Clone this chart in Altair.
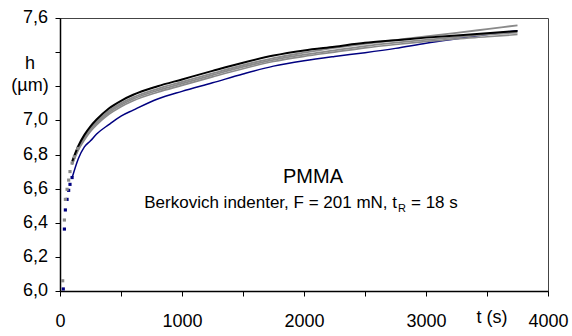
import altair as alt
import pandas as pd

# ---- data ----
t_line = [100, 150, 200, 250, 300, 400, 500, 600, 800, 1000, 1250, 1500,
          1750, 2000, 2250, 2500, 2750, 3000, 3250, 3500, 3750]
h_black = [6.76, 6.85, 6.915, 6.965, 7.005, 7.07, 7.115, 7.15, 7.20, 7.24, 7.29, 7.338,
           7.38, 7.41, 7.432, 7.455, 7.47, 7.485, 7.498, 7.51, 7.524]
h_gray1 = [6.75, 6.84, 6.905, 6.952, 6.99, 7.055, 7.10, 7.135, 7.185, 7.225, 7.275, 7.323,
           7.365, 7.397, 7.425, 7.448, 7.47, 7.492, 7.513, 7.535, 7.557]
h_gray2 = [6.745, 6.832, 6.895, 6.945, 6.982, 7.045, 7.09, 7.125, 7.175, 7.215, 7.265, 7.313,
           7.355, 7.385, 7.41, 7.435, 7.455, 7.472, 7.488, 7.502, 7.515]
h_gray3 = [6.74, 6.825, 6.885, 6.935, 6.973, 7.035, 7.08, 7.115, 7.165, 7.205, 7.255, 7.303,
           7.345, 7.375, 7.40, 7.425, 7.445, 7.462, 7.478, 7.49, 7.503]
h_blue = [6.665, 6.775, 6.845, 6.88, 6.92, 6.975, 7.025, 7.06, 7.125, 7.17, 7.22, 7.272,
          7.318, 7.35, 7.375, 7.397, 7.422, 7.452, 7.478, 7.503, 7.526]

t_early_gray = [22, 36, 44, 58, 71, 82, 99, 118, 145]
h_early_gray = [6.06, 6.416, 6.537, 6.596, 6.65, 6.70, 6.75, 6.787, 6.836]
t_early_blue = [27, 36, 44, 58, 71, 82, 99]
h_early_blue = [6.012, 6.363, 6.475, 6.537, 6.59, 6.625, 6.665]

# axis tick labels
y_tick_vals = [6.0, 6.2, 6.4, 6.6, 6.8, 7.0, 7.6]
y_tick_text = ["6,0", "6,2", "6,4", "6,6", "6,8", "7,0", "7,6"]
y_unit_vals = [7.33, 7.2]
y_unit_text = ["h", "(µm)"]
x_tick_vals = [0, 500, 1000, 1500, 2000, 2500, 3000, 3500, 4000]

series_names = ["blue", "gray3", "gray2", "gray1", "black"]
series_colors = ["#000080", "#8a8a8a", "#8a8a8a", "#8a8a8a", "#000000"]
series_widths = [1.5, 2, 2, 2, 2]

rows = []
for name, vals in zip(series_names, [h_blue, h_gray3, h_gray2, h_gray1, h_black]):
    for i, (t, h) in enumerate(zip(t_line, vals)):
        rows.append({"t": t, "h": h, "series": name, "order": i})
lines_df = pd.DataFrame(rows)

pts = []
for t, h in zip(t_early_blue, h_early_blue):
    pts.append({"t": t, "h": h, "series": "blue"})
for t, h in zip(t_early_gray, h_early_gray):
    pts.append({"t": t, "h": h, "series": "gray2"})
pts_df = pd.DataFrame(pts)

ylab_df = pd.DataFrame({"h": y_tick_vals, "label": y_tick_text})
yunit_df = pd.DataFrame({"h": y_unit_vals, "label": y_unit_text})

FONT = "Liberation Sans"
TICK_FS = 18

x_scale = alt.Scale(domain=[0, 4000], nice=False)
y_scale = alt.Scale(domain=[6.0, 7.6], nice=False, zero=False)
color_scale = alt.Scale(domain=series_names, range=series_colors)
width_scale = alt.Scale(domain=series_names, range=series_widths)

x_axis = alt.Axis(
    values=x_tick_vals,
    labelExpr="datum.value % 1000 == 0 ? datum.label : ''",
    format="d", grid=False, tickSize=5, labelPadding=16, title=None,
    labelFontSize=TICK_FS, labelFont=FONT, labelColor="black",
    domainColor="black", domainWidth=1.5, tickColor="black",
    labelFlush=False, labelOverlap=False,
)
y_axis = alt.Axis(
    values=[6.0, 6.2, 6.4, 6.6, 6.8, 7.0, 7.2, 7.4, 7.6],
    labels=False,
    grid=False, tickSize=5, title=None,
    domainColor="black", domainWidth=1.5, tickColor="black",
)

lines = alt.Chart(lines_df).mark_line(clip=True, interpolate="monotone").encode(
    x=alt.X("t:Q", scale=x_scale, axis=x_axis),
    y=alt.Y("h:Q", scale=y_scale, axis=y_axis),
    color=alt.Color("series:N", scale=color_scale, legend=None),
    size=alt.Size("series:N", scale=width_scale, legend=None),
    detail="series:N",
    order="order:Q",
)

points = alt.Chart(pts_df).mark_square(size=10, opacity=1).encode(
    x=alt.X("t:Q", scale=x_scale, axis=x_axis),
    y=alt.Y("h:Q", scale=y_scale, axis=y_axis),
    color=alt.Color("series:N", scale=color_scale, legend=None),
)

ylabels = alt.Chart(ylab_df).mark_text(
    font=FONT, fontSize=TICK_FS, align="right", baseline="middle", color="black"
).encode(x=alt.value(-12), y=alt.Y("h:Q", scale=y_scale, axis=y_axis), text="label:N")

yunits = alt.Chart(yunit_df).mark_text(
    font=FONT, fontSize=TICK_FS, align="center", baseline="middle", color="black"
).encode(x=alt.value(-30), y=alt.Y("h:Q", scale=y_scale, axis=y_axis), text="label:N")

ann = pd.DataFrame({"a": [0]})


def txt(text, x, y, size, align="center", baseline="middle"):
    return alt.Chart(ann).mark_text(
        text=text, font=FONT, fontSize=size, align=align, baseline=baseline, color="black"
    ).encode(x=alt.value(x), y=alt.value(y))


texts = [
    txt("t (s)", 432, 300, TICK_FS),
    txt("PMMA", 253, 165, 20, baseline="alphabetic"),
    txt("Berkovich indenter, F = 201 mN, t", 337, 190, 17, align="right", baseline="alphabetic"),
    txt("R", 338, 194, 11, align="left", baseline="alphabetic"),
    txt("= 18 s", 351, 190, 17, align="left", baseline="alphabetic"),
]

chart = alt.layer(lines, points, ylabels, yunits, *texts).properties(
    width=488, height=273,
    padding={"left": 60, "top": 18, "right": 24, "bottom": 45},
    autosize=alt.AutoSizeParams(type="none"),
    background="white",
).configure_view(stroke="#444444", strokeWidth=1)

chart.save("out.html", embed_options={"renderer": "svg", "actions": False})
